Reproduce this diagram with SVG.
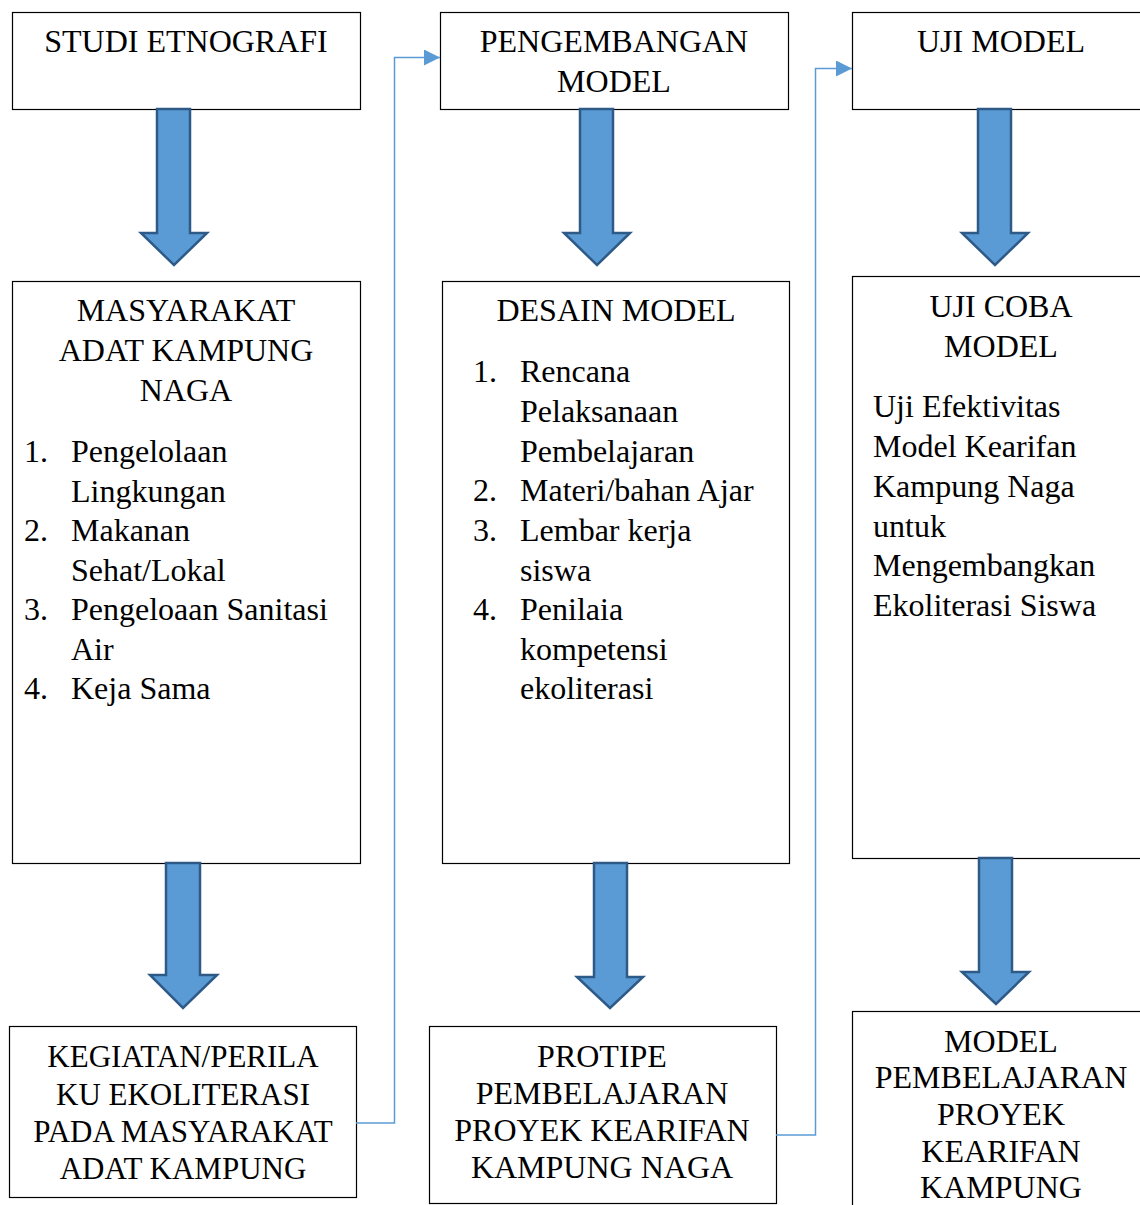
<svg xmlns="http://www.w3.org/2000/svg" width="1140" height="1205" viewBox="0 0 1140 1205">
<style>
.box{fill:#fff;stroke:#000;stroke-width:1.2}
.t{font-family:"Liberation Serif","Times New Roman",serif;font-size:32px;fill:#000}
.c{text-anchor:middle}
.s{font-size:31px}
.arr{fill:#5b9bd5;stroke:#2e5a88;stroke-width:2.5;stroke-linejoin:miter}
.con{fill:none;stroke:#5b9bd5;stroke-width:1.5}
</style>
<defs>
<marker id="ah2" viewBox="0 0 16 16" refX="16" refY="8" markerWidth="16" markerHeight="16" markerUnits="userSpaceOnUse" orient="auto">
<path d="M0,0 L16,8 L0,16 Z" fill="#5b9bd5"/>
</marker>
</defs>

<g id="studi">
<rect class="box" x="12.5" y="12.5" width="348" height="97"/>
<text class="t c" x="186" y="52">STUDI ETNOGRAFI</text>
</g>
<g id="pengembangan">
<rect class="box" x="440.5" y="12.5" width="348" height="97"/>
<text class="t c" x="614" y="52">PENGEMBANGAN</text>
<text class="t c" x="614" y="92">MODEL</text>
</g>
<g id="uji">
<rect class="box" x="852.5" y="12.5" width="320" height="97"/>
<text class="t c" x="1001" y="52">UJI MODEL</text>
</g>

<g id="masyarakat">
<rect class="box" x="12.5" y="281.5" width="348" height="582"/>
<text class="t c" x="186" y="321">MASYARAKAT</text>
<text class="t c" x="186" y="361">ADAT KAMPUNG</text>
<text class="t c" x="186" y="401">NAGA</text>
<text class="t" x="24" y="462">1.</text><text class="t" x="71" y="462">Pengelolaan</text>
<text class="t" x="71" y="501.5">Lingkungan</text>
<text class="t" x="24" y="541">2.</text><text class="t" x="71" y="541">Makanan</text>
<text class="t" x="71" y="580.5">Sehat/Lokal</text>
<text class="t" x="24" y="620">3.</text><text class="t" x="71" y="620">Pengeloaan Sanitasi</text>
<text class="t" x="71" y="659.5">Air</text>
<text class="t" x="24" y="699">4.</text><text class="t" x="71" y="699">Keja Sama</text>
</g>

<g id="desain">
<rect class="box" x="442.5" y="281.5" width="347" height="582"/>
<text class="t c" x="616" y="321">DESAIN MODEL</text>
<text class="t" x="473" y="382">1.</text><text class="t" x="520" y="382">Rencana</text>
<text class="t" x="520" y="422">Pelaksanaan</text>
<text class="t" x="520" y="461.5">Pembelajaran</text>
<text class="t" x="473" y="501">2.</text><text class="t" x="520" y="501">Materi/bahan Ajar</text>
<text class="t" x="473" y="541">3.</text><text class="t" x="520" y="541">Lembar kerja</text>
<text class="t" x="520" y="580.5">siswa</text>
<text class="t" x="473" y="620">4.</text><text class="t" x="520" y="620">Penilaia</text>
<text class="t" x="520" y="659.5">kompetensi</text>
<text class="t" x="520" y="699">ekoliterasi</text>
</g>

<g id="ujicoba">
<rect class="box" x="852.5" y="276.5" width="320" height="582"/>
<text class="t c" x="1001" y="316.5">UJI COBA</text>
<text class="t c" x="1001" y="356.5">MODEL</text>
<text class="t" x="873" y="417">Uji Efektivitas</text>
<text class="t" x="873" y="457">Model Kearifan</text>
<text class="t" x="873" y="497">Kampung Naga</text>
<text class="t" x="873" y="536.5">untuk</text>
<text class="t" x="873" y="576">Mengembangkan</text>
<text class="t" x="873" y="616">Ekoliterasi Siswa</text>
</g>

<g id="kegiatan">
<rect class="box" x="9.5" y="1026.5" width="347" height="171"/>
<text class="t s c" x="183" y="1067">KEGIATAN/PERILA</text>
<text class="t s c" x="183" y="1105">KU EKOLITERASI</text>
<text class="t s c" x="183" y="1142">PADA MASYARAKAT</text>
<text class="t s c" x="183" y="1179">ADAT KAMPUNG</text>
</g>

<g id="protipe">
<rect class="box" x="429.5" y="1026.5" width="347" height="177"/>
<text class="t c" x="602" y="1067">PROTIPE</text>
<text class="t c" x="602" y="1104">PEMBELAJARAN</text>
<text class="t c" x="602" y="1141">PROYEK KEARIFAN</text>
<text class="t c" x="602" y="1178">KAMPUNG NAGA</text>
</g>

<g id="model-pembelajaran">
<rect class="box" x="852.5" y="1011.5" width="320" height="220"/>
<text class="t c" x="1001" y="1052">MODEL</text>
<text class="t c" x="1001" y="1088">PEMBELAJARAN</text>
<text class="t c" x="1001" y="1125">PROYEK</text>
<text class="t c" x="1001" y="1162">KEARIFAN</text>
<text class="t c" x="1001" y="1198">KAMPUNG</text>
</g>

<g id="connectors">
<path class="arr" d="M157,109 L190,109 L190,233 L207,233 L174,265 L141,233 L157,233 Z"/>
<path class="arr" d="M580,109 L613,109 L613,233 L630,233 L597,265 L564,233 L580,233 Z"/>
<path class="arr" d="M978,109 L1011,109 L1011,233 L1028,233 L995,265 L962,233 L978,233 Z"/>
<path class="arr" d="M166,863 L200,863 L200,975 L217,975 L183,1008 L150,975 L166,975 Z"/>
<path class="arr" d="M594,863 L627,863 L627,977 L643,977 L610,1008 L577,977 L594,977 Z"/>
<path class="arr" d="M979,858 L1012,858 L1012,972 L1029,972 L996,1004 L962,972 L979,972 Z"/>
<path class="con" d="M356,1123 L394.5,1123 L394.5,57.5 L440,57.5" marker-end="url(#ah2)"/>
<path class="con" d="M776,1135 L815.5,1135 L815.5,68.5 L852,68.5" marker-end="url(#ah2)"/>
</g>
</svg>
